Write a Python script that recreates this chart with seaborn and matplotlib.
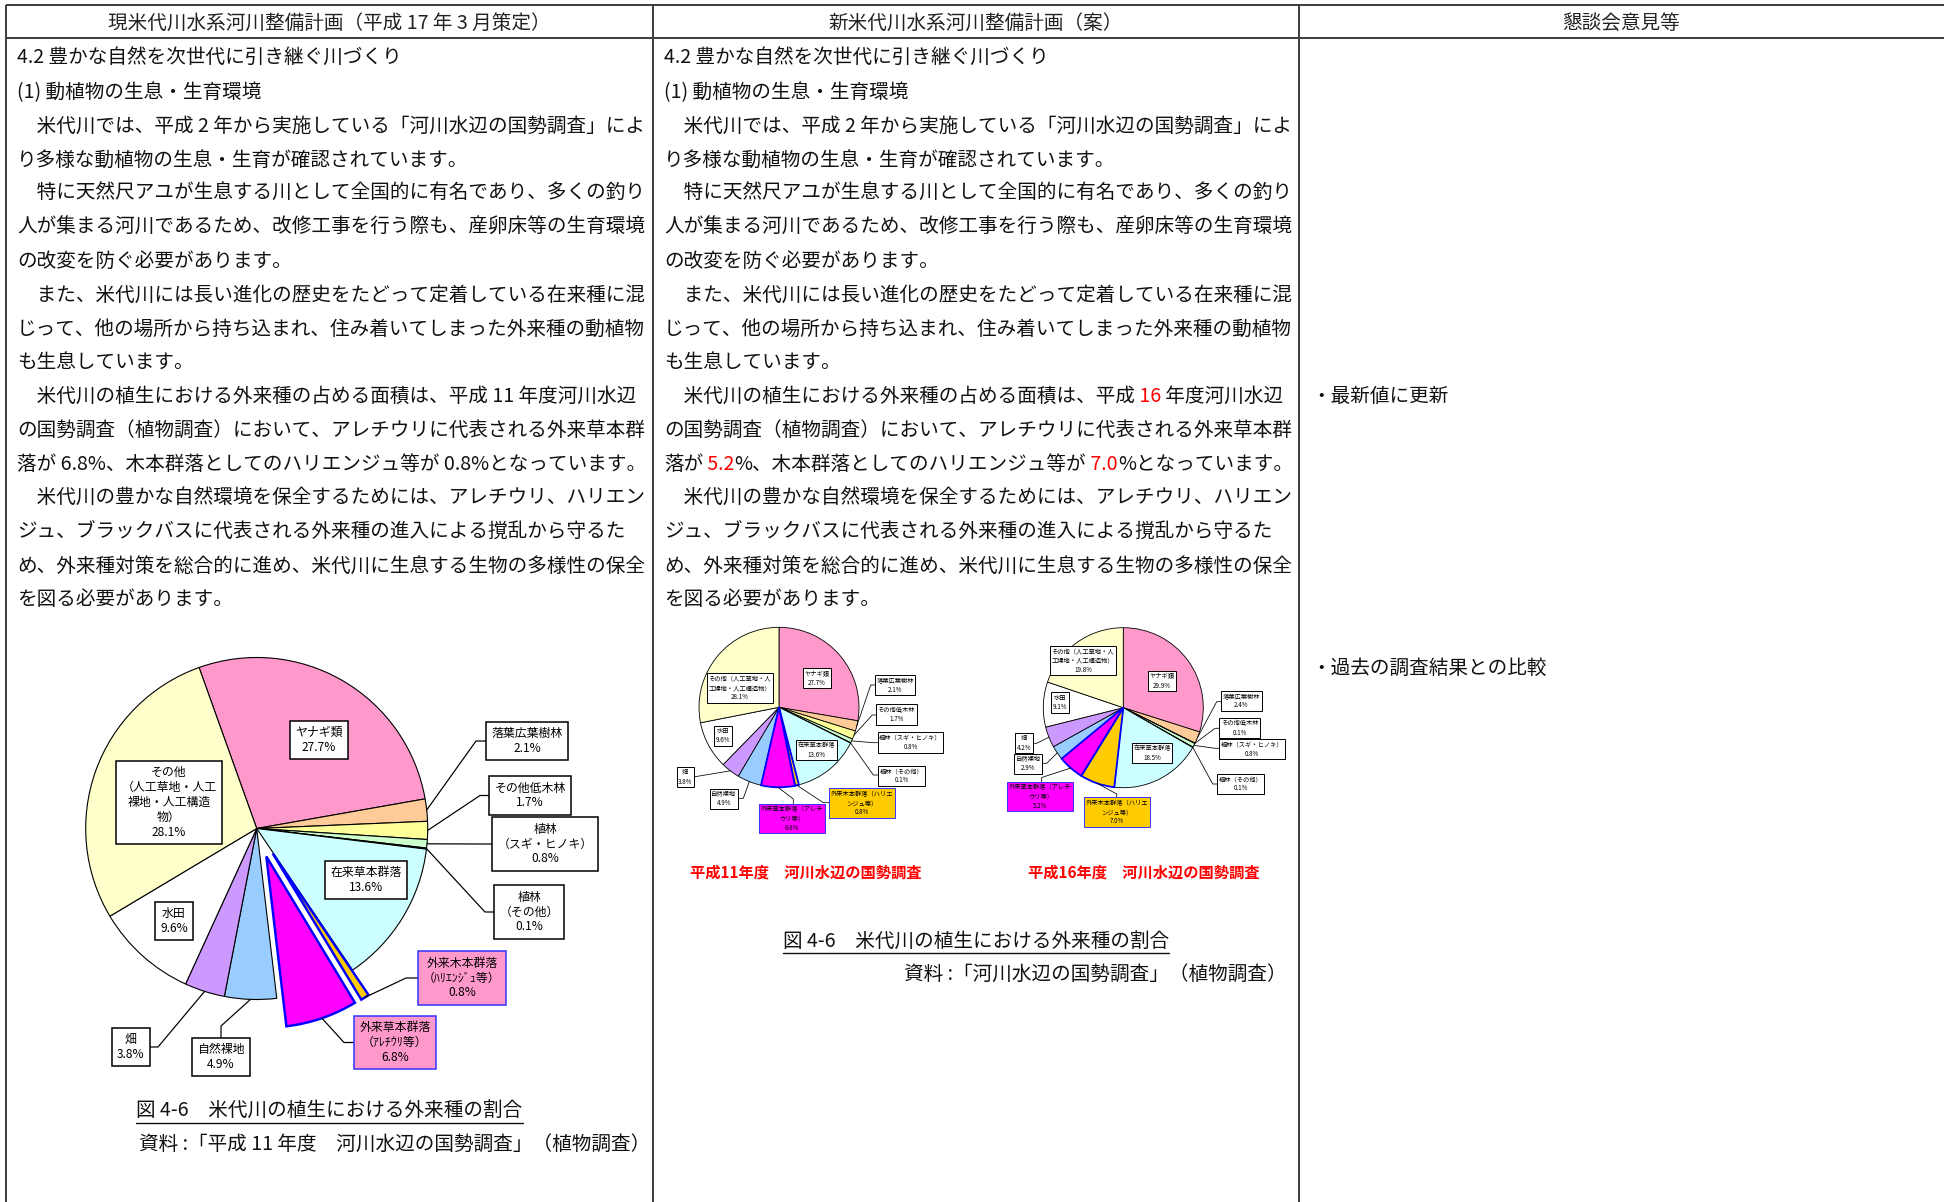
import re
import numpy as np
import pandas as pd
import seaborn as sns
import matplotlib.pyplot as plt

sns.set_theme(style="white")
plt.rcParams['font.family'] = ['Noto Sans CJK JP', 'DejaVu Sans']

W, H = 1944, 1202

# ---- data ----
categories = ['ヤナギ類', '落葉広葉樹林', 'その他低木林', '植林（スギ・ヒノキ）', '植林（その他）',
              '在来草本群落', '外来木本群落', '外来草本群落', '自然裸地', '畑', '水田', 'その他']
share_h11 = [27.7, 2.1, 1.7, 0.8, 0.1, 13.6, 0.8, 6.8, 4.9, 3.8, 9.6, 28.1]
share_h16 = [29.9, 2.4, 0.1, 0.8, 0.1, 18.5, 7.0, 5.2, 2.9, 4.2, 9.1, 19.8]

big_names = ['ヤナギ類', '落葉広葉樹林', 'その他低木林', '植林\n（スギ・ヒノキ）', '植林\n（その他）',
             '在来草本群落', '外来木本群落\n（ﾊﾘｴﾝｼﾞｭ等）', '外来草本群落\n（ｱﾚﾁｳﾘ等）', '自然裸地', '畑',
             '水田', 'その他\n（人工草地・人工\n裸地・人工構造\n物）']
small_names = ['ヤナギ類', '落葉広葉樹林', 'その他低木林', '植林（スギ・ヒノキ）', '植林（その他）',
               '在来草本群落', '外来木本群落（ハリエ\nンジュ等）', '外来草本群落（アレチ\nウリ等）', '自然裸地',
               '畑', '水田', 'その他（人工草地・人\n工裸地・人工構造物）']

slice_colors = sns.color_palette(['#FF99CC', '#FFCC99', '#FFFF99', '#CCFFCC', '#660066', '#CCFFFF',
                                  '#FFCC00', '#FF00FF', '#99CCFF', '#CC99FF', '#FFFFFF', '#FFFFCC'])

old_lines = [
    '4.2 豊かな自然を次世代に引き継ぐ川づくり',
    '(1) 動植物の生息・生育環境',
    '　米代川では、平成 2 年から実施している「河川水辺の国勢調査」によ',
    'り多様な動植物の生息・生育が確認されています。',
    '　特に天然尺アユが生息する川として全国的に有名であり、多くの釣り',
    '人が集まる河川であるため、改修工事を行う際も、産卵床等の生育環境',
    'の改変を防ぐ必要があります。',
    '　また、米代川には長い進化の歴史をたどって定着している在来種に混',
    'じって、他の場所から持ち込まれ、住み着いてしまった外来種の動植物',
    'も生息しています。',
    '　米代川の植生における外来種の占める面積は、平成 11 年度河川水辺',
    'の国勢調査（植物調査）において、アレチウリに代表される外来草本群',
    '落が 6.8%、木本群落としてのハリエンジュ等が 0.8%となっています。',
    '　米代川の豊かな自然環境を保全するためには、アレチウリ、ハリエン',
    'ジュ、ブラックバスに代表される外来種の進入による撹乱から守るた',
    'め、外来種対策を総合的に進め、米代川に生息する生物の多様性の保全',
    'を図る必要があります。',
]
new_lines = list(old_lines)
new_lines[10] = '　米代川の植生における外来種の占める面積は、平成{ 16} 年度河川水辺'
new_lines[12] = '落が{ 5.2}%、木本群落としてのハリエンジュ等が{ 7.0}%となっています。'

headers = ['現米代川水系河川整備計画（平成 17 年 3 月策定）', '新米代川水系河川整備計画（案）', '懇談会意見等']
comments = ['・最新値に更新', '・過去の調査結果との比較']

# ---- label layout (pixel positions of label boxes and leader elbows) ----
big_label_xy = [(319, 740), (527, 741), (530, 795.5), (545, 844), (529, 912), (366, 880),
                (462, 978), (395, 1042.5), (221, 1057), (131, 1047), (174, 921), (169, 802.5)]
big_elbows = [None, (476, 741), (480, 795.5), (481, 844), (485, 912), None,
              (406, 978), (344, 1042.5), (221, 1026), (158, 1047), None, None]

h11_label_xy = [(817, 678.3), (895, 685), (896.3, 714.5), (910.5, 742.5), (901.7, 775.7), (816.7, 750.3),
                (862, 803), (792, 818.7), (723.8, 798.8), (685.3, 777), (723, 735.7), (739.7, 688)]
h11_elbows = [None, (870.7, 685), (872.3, 715), (873.3, 742.7), (873.3, 775), None,
              (823.3, 802.7), (793.3, 799), (743.3, 798.3), (695, 776.7), None, None]

h16_label_xy = [(1161.7, 681), (1241.3, 700.8), (1239.7, 728), (1251.7, 749), (1240.5, 783.7), (1152, 753.3),
                (1117, 812), (1040.3, 796.7), (1028.3, 763.7), (1023.8, 743), (1060.3, 702.5), (1083, 660.5)]
h16_elbows = [None, (1216.7, 701.7), (1215, 728.3), (1215, 748.3), (1212.7, 784), None,
              (1116.7, 794), (1041.7, 777.5), (1046.7, 763.3), (1036.7, 743.3), None, None]

fig = plt.figure(figsize=(W / 100, H / 100), dpi=100)
renderer = fig.canvas.get_renderer()

ax_bg = fig.add_axes([0, 0, 1, 1])
ax_bg.set_xlim(0, W)
ax_bg.set_ylim(H, 0)
ax_bg.axis('off')

# table frame
line_kw = dict(color='#3c3c3c', lw=1.4, solid_capstyle='butt')
ax_bg.plot([6, W], [5, 5], **line_kw)
ax_bg.plot([6, W], [38, 38], **line_kw)
col_edges = [6, 653, 1299]
for x in col_edges:
    ax_bg.plot([x, x], [5, H], **line_kw)

DY = 2.5  # CJK glyphs sit a bit high with va='center'
BODY_FS = 14.1
col_centers = [329.5, 976, 1621.5]
for cx, txt in zip(col_centers, headers):
    ax_bg.text(cx, 21 + DY, txt, ha='center', va='center', fontsize=BODY_FS, color='#222222')


def put_runs(ax, x, y, s, size):
    parts = re.split(r'[{}]', s)
    for i, part in enumerate(parts):
        if not part:
            continue
        t = ax.text(x, y, part, fontsize=size, ha='left', va='center',
                    color='red' if i % 2 else '#111111')
        x = t.get_window_extent(renderer).x1


for i, (a, b) in enumerate(zip(old_lines, new_lines)):
    y = 55.8 + DY + 33.85 * i
    put_runs(ax_bg, 17, y, a, BODY_FS)
    put_runs(ax_bg, 664, y, b, BODY_FS)

ax_bg.text(1311, 394.3 + DY, comments[0], ha='left', va='center', fontsize=BODY_FS, color='#111111')
ax_bg.text(1311, 666 + DY, comments[1], ha='left', va='center', fontsize=BODY_FS, color='#111111')


def underlined(ax, x, y, s, ha):
    t = ax.text(x, y, s, ha=ha, va='center', fontsize=BODY_FS, color='#111111')
    bb = t.get_window_extent(renderer)
    ax.plot([bb.x0, bb.x1], [H - bb.y0 + 1.5] * 2, color='#111111', lw=1.0)


fig_caption = '図 4-6　米代川の植生における外来種の割合'
underlined(ax_bg, 329.5, 1107 + 3.5, fig_caption, 'center')
ax_bg.text(139, 1140.6 + 3.5, '資料 :「平成 11 年度　河川水辺の国勢調査」（植物調査）', ha='left', va='center',
           fontsize=BODY_FS, color='#111111')
underlined(ax_bg, 976, 938.5 + DY, fig_caption, 'center')
ax_bg.text(1287, 972 + DY, '資料 :「河川水辺の国勢調査」（植物調査）', ha='right', va='center',
           fontsize=BODY_FS, color='#111111')

ax_bg.text(806, 870 + DY, '平成11年度　河川水辺の国勢調査', ha='center', va='center', fontsize=11,
           color='#FF0000', fontweight='bold')
ax_bg.text(1144, 870 + DY, '平成16年度　河川水辺の国勢調査', ha='center', va='center', fontsize=11,
           color='#FF0000', fontweight='bold')


def draw_pie(values, cx, cy, r, start, explode, edge_lw):
    L = 1.3
    ax = fig.add_axes([(cx - L * r) / W, 1 - (cy + L * r) / H, 2 * L * r / W, 2 * L * r / H])
    wedges, _ = ax.pie(values, colors=slice_colors, startangle=start, counterclock=False,
                       explode=explode, wedgeprops=dict(edgecolor='black', linewidth=edge_lw))
    ax.set_aspect('auto')
    ax.set_xlim(-L, L)
    ax.set_ylim(-L, L)
    ax.axis('off')
    for i in (6, 7):
        wedges[i].set_edgecolor('#0000FF')
        wedges[i].set_linewidth(edge_lw * 2.2)
        wedges[i].set_zorder(3)
    return ax, wedges


ax_p1, w_p1 = draw_pie(share_h11, 256.7, 828.5, 171, 109.7,
                       [0, 0, 0, 0, 0, 0, 0.173, 0.173, 0, 0, 0, 0], 0.8)
ax_p2, w_p2 = draw_pie(share_h11, 779, 707.3, 80, 90, None, 0.6)
ax_p3, w_p3 = draw_pie(share_h16, 1123.3, 707.7, 80, 90, None, 0.6)

ax_top = fig.add_axes([0, 0, 1, 1])
ax_top.set_xlim(0, W)
ax_top.set_ylim(H, 0)
ax_top.set_facecolor('none')
ax_top.axis('off')


def label_pie(ax, wedges, values, names, label_xy, elbows, fs, pad, alien_faces, lw):
    for i, (w, v, name) in enumerate(zip(wedges, values, names)):
        face, edge = 'white', 'black'
        if i in (6, 7):
            face, edge = alien_faces[i - 6], '#3333FF'
        x, y = label_xy[i]
        t = ax_top.text(x, y, f'{name}\n{v:.1f}%', ha='center', va='center', fontsize=fs,
                        multialignment='center', color='black', zorder=5,
                        bbox=dict(boxstyle=f'square,pad={pad}', fc=face, ec=edge, lw=lw))
        if elbows[i] is None:
            continue
        bb = t.get_window_extent(renderer)
        p = pad * fs * 100 / 72
        x0, x1 = bb.x0 - p, bb.x1 + p
        y0, y1 = H - bb.y1 - p, H - bb.y0 + p
        ex, ey = elbows[i]
        if y0 <= ey <= y1:
            sx, sy = (x0 if ex < x0 else x1), ey
        else:
            sx, sy = ex, (y0 if ey < y0 else y1)
        theta = np.deg2rad((w.theta1 + w.theta2) / 2)
        px = w.center[0] + w.r * np.cos(theta)
        py = w.center[1] + w.r * np.sin(theta)
        dx, dy = ax.transData.transform((px, py))
        ax_top.plot([sx, ex, dx], [sy, ey, H - dy], color='black', lw=lw * 0.8, zorder=4)


label_pie(ax_p1, w_p1, share_h11, big_names, big_label_xy, big_elbows, 8.6, 0.45,
          ['#FF99CC', '#FF99CC'], 1.1)
label_pie(ax_p2, w_p2, share_h11, small_names, h11_label_xy, h11_elbows, 4.5, 0.25,
          ['#FFCC00', '#FF00FF'], 0.7)
label_pie(ax_p3, w_p3, share_h16, small_names, h16_label_xy, h16_elbows, 4.5, 0.25,
          ['#FFCC00', '#FF00FF'], 0.7)

fig.savefig('out.png', dpi=100)
